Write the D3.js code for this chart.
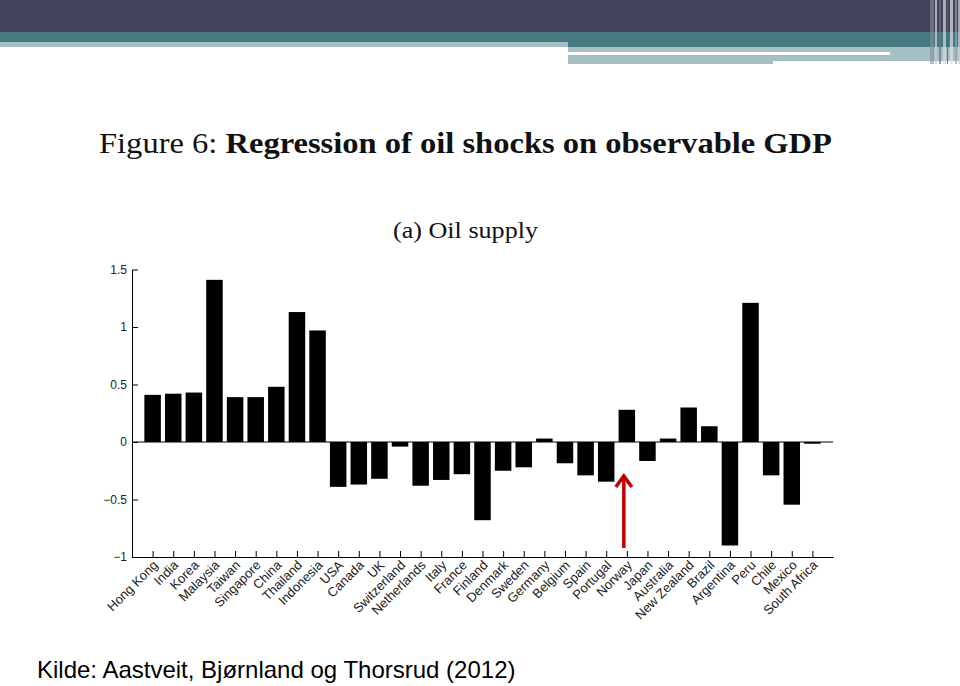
<!DOCTYPE html>
<html>
<head>
<meta charset="utf-8">
<script src="https://cdn.jsdelivr.net/npm/d3@7"></script>
<style>
  html, body { margin: 0; padding: 0; background: #fff; }
  svg { display: block; }
</style>
</head>
<body>
<svg id="chart" width="960" height="686"></svg>
<script>
// ---- data ----
const countries = ["Hong Kong","India","Korea","Malaysia","Taiwan","Singapore","China","Thailand","Indonesia",
  "USA","Canada","UK","Switzerland","Netherlands","Italy","France","Finland","Denmark","Sweden","Germany",
  "Belgium","Spain","Portugal","Norway","Japan","Australia","New Zealand","Brazil","Argentina","Peru",
  "Chile","Mexico","South Africa"];
const oilSupply = [0.41,0.42,0.43,1.41,0.39,0.39,0.48,1.13,0.97,
  -0.39,-0.37,-0.32,-0.04,-0.38,-0.33,-0.28,-0.68,-0.25,-0.22,0.03,
  -0.185,-0.29,-0.345,0.28,-0.165,0.03,0.30,0.137,-0.90,1.21,
  -0.29,-0.545,-0.015];
const yTicks = [-1,-0.5,0,0.5,1,1.5];
const yTickLabels = ["\u22121","\u22120.5","0","0.5","1","1.5"];
const titleParts = ["Figure 6: ", "Regression of oil shocks on observable GDP"];
const subtitle = "(a) Oil supply";
const sourceText = "Kilde: Aastveit, Bjørnland og Thorsrud (2012)";
const highlighted = "Norway";

const svg = d3.select("#chart");

// ---- slide header decoration ----
const hdr = svg.append("g");
const dark = "#434459", teal = "#457b80", light = "#a5c0c4";
[[0,0,960,32,dark],[0,32,960,10,teal],[0,42,568,5,light],[568,42,392,5,teal],
 [568,47,392,5,light],[568,52,322,3,"#ffffff"],[890,52,70,3,light],
 [568,55,205,9,light],[773,55,187,6,light]].forEach(r => {
  hdr.append("rect").attr("x",r[0]).attr("y",r[1]).attr("width",r[2]).attr("height",r[3]).attr("fill",r[4]);
});
[[930,4,"#8a8c99",0.6],[935,2,"#c9cad1",0.8],[939,2,"#6d6f80",0.7],[943,3,"#d8d9de",0.7],
 [947,1,"#5a5c6e",0.8],[950,3,"#e0e1e5",0.7],[955,2,"#9a9cab",0.7],[958,2,"#d0d1d8",0.7]].forEach(s => {
  hdr.append("rect").attr("x",s[0]).attr("y",0).attr("width",s[1]).attr("height",64)
    .attr("fill",s[2]).attr("opacity",s[3]);
});

// ---- titles ----
const t = svg.append("text").attr("x",99).attr("y",153)
  .attr("font-family","'Liberation Serif','DejaVu Serif',serif").attr("font-size",29)
  .attr("fill","#111").attr("textLength",733).attr("lengthAdjust","spacingAndGlyphs");
t.append("tspan").text(titleParts[0]);
t.append("tspan").attr("font-weight","bold").text(titleParts[1]);

svg.append("text").attr("x",393).attr("y",238)
  .attr("font-family","'Liberation Serif','DejaVu Serif',serif").attr("font-size",23)
  .attr("fill","#111").attr("textLength",145).attr("lengthAdjust","spacingAndGlyphs")
  .text(subtitle);

// ---- chart ----
const x0 = 132, x1 = 833, yTop = 269.5, yBot = 557;
const x = d3.scaleLinear().domain([0, countries.length + 1]).range([x0, x1]);
const y = d3.scaleLinear().domain([-1, 1.5]).range([yBot, yTop]);
const bw = (x(1) - x(0)) * 0.8;

const g = svg.append("g");

g.selectAll("rect.bar").data(oilSupply).join("rect")
  .attr("class","bar")
  .attr("x",(d,i) => x(i+1) - bw/2)
  .attr("width", bw)
  .attr("y", d => y(Math.max(0,d)))
  .attr("height", d => Math.abs(y(d) - y(0)))
  .attr("fill","#000");

// zero baseline
g.append("line").attr("x1",x0).attr("x2",x1).attr("y1",y(0)).attr("y2",y(0))
  .attr("stroke","#000").attr("stroke-width",1);

// y axis
const yAxis = d3.axisLeft(y).tickValues(yTicks).tickSizeInner(-6).tickSizeOuter(0)
  .tickFormat((d,i) => yTickLabels[i]).tickPadding(5);
const ya = g.append("g").attr("transform",`translate(${x0},0)`).call(yAxis);
ya.select(".domain").attr("stroke","#000");
ya.selectAll(".tick line").attr("stroke","#000");
ya.selectAll(".tick text").attr("font-family","'Liberation Sans',Arial,sans-serif")
  .attr("font-size",12).attr("fill","#222");

// x axis
const xAxis = d3.axisBottom(x).tickValues(d3.range(1, countries.length+1))
  .tickSizeInner(-6).tickSizeOuter(0).tickFormat("");
const xa = g.append("g").attr("transform",`translate(0,${yBot})`).call(xAxis);
xa.select(".domain").attr("stroke","#000");
xa.selectAll(".tick line").attr("stroke","#000");

g.selectAll("text.xl").data(countries).join("text")
  .attr("class","xl")
  .attr("transform",(d,i) => `translate(${x(i+1)+6},${yBot+9}) rotate(-45)`)
  .attr("text-anchor","end")
  .attr("font-family","'Liberation Sans',Arial,sans-serif")
  .attr("font-size",13).attr("fill","#222")
  .text(d => d);

// red arrow pointing at highlighted country
const hi = countries.indexOf(highlighted) + 1;
const ax = x(hi) - 3;
const arrow = svg.append("g").attr("stroke","#c00000").attr("stroke-width",3.5).attr("fill","none");
arrow.append("line").attr("x1",ax).attr("x2",ax).attr("y1",548).attr("y2",477);
arrow.append("polyline").attr("points",`${ax-8},${487} ${ax},${476} ${ax+8},${487}`)
  .attr("stroke-linejoin","miter");

// source
svg.append("text").attr("x",37).attr("y",678)
  .attr("font-family","'Liberation Sans',Arial,sans-serif").attr("font-size",24)
  .attr("fill","#000").text(sourceText);
</script>
</body>
</html>
